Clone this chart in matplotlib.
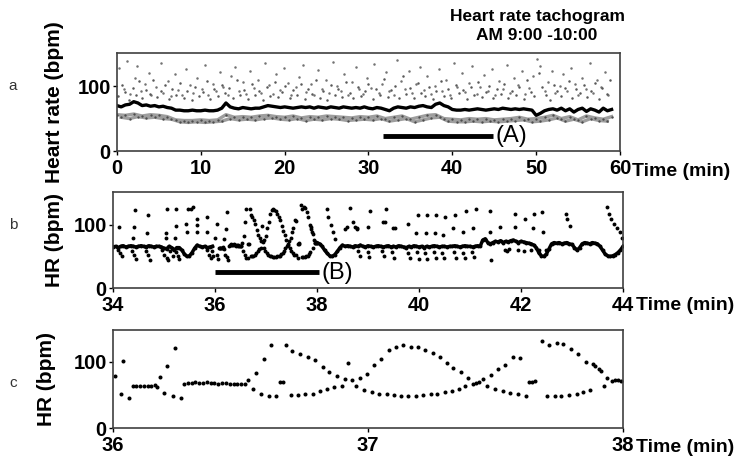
import numpy as np
import matplotlib.pyplot as plt

# --- panel a: 1 h tachogram ---
a_hr = [70, 68, 71, 72, 76, 74, 70, 71, 69, 70, 68, 69, 67, 66,
        63, 63, 62, 62, 63, 62, 62, 63, 62, 62, 63, 66, 74, 68,
        66, 65, 67, 66, 65, 66, 66, 68,
        70, 69, 68, 67, 68, 67, 66, 67, 68, 67, 68, 66,
        68, 67, 66, 68, 67, 66, 68, 67, 66, 67, 66, 68, 66, 65, 67, 66,
        64, 62, 66, 68, 67, 66, 68, 67, 69, 70, 68, 67,
        72, 74, 70, 68,
        64, 63, 63, 64, 63, 64, 65, 64, 63, 64, 65, 64, 66, 65, 64, 65,
        64, 65, 64, 63, 55, 58,
        62, 64, 65, 63, 66, 62, 65, 60, 64, 66, 61, 65, 63, 60, 66, 62, 64]
a_low = [56, 55, 57, 54, 56, 55, 53,
         48, 47, 47, 48, 47, 48,
         56, 52, 53, 52, 54, 55,
         53, 52, 54, 51, 53, 52, 54, 53, 52, 51, 53, 52, 54,
         50, 52, 54, 49, 52, 55, 56,
         50, 49, 48, 50, 49, 50, 48, 49, 50, 52, 49, 50,
         52, 55, 50, 53, 48, 54, 51, 49, 53]
a_low2 = [52, 50, 53, 51, 52, 50, 49,
          45, 44, 45, 44, 45, 46,
          50, 48, 49, 48, 50, 51,
          49, 48, 50, 47, 49, 48, 50, 49, 47, 48, 49, 48, 50,
          46, 48, 50, 45, 48, 51, 52,
          46, 45, 45, 46, 45, 46, 45, 46, 47, 48, 45, 46,
          48, 51, 46, 49, 45, 50, 47, 46]
a_up_t = [0.3, 0.8, 1.2, 1.6, 2.1, 2.4, 2.9, 3.3, 3.8, 4.1, 4.6, 5.2, 5.5, 6.1,
          6.4, 6.9, 7.3, 7.8, 8.2, 8.7, 9.1, 9.6, 10.1, 10.5, 10.9, 11.4, 11.8,
          12.3, 12.7, 13.2, 13.6, 14.1, 14.5, 15.0, 15.4, 15.9, 16.3, 16.8,
          17.2, 17.7, 18.1, 18.6, 19.0, 19.5, 19.9, 20.4, 20.8, 21.3, 21.7,
          22.2, 22.6, 23.1, 23.5, 24.0, 24.4, 24.9, 25.3, 25.8, 26.2, 26.7,
          27.1, 27.6, 28.0, 28.5, 28.9, 29.4, 29.8, 30.3, 30.7, 31.2, 31.6,
          32.1, 32.5, 33.0, 33.4, 33.9, 34.3, 34.8, 35.2, 35.7, 36.1, 36.6,
          37.0, 37.5, 37.9, 38.4, 38.8, 39.3, 39.7, 40.2, 40.6, 41.1, 41.5,
          42.0, 42.4, 42.9, 43.3, 43.8, 44.2, 44.7, 45.1, 45.6, 46.0, 46.5,
          46.9, 47.4, 47.8, 48.3, 48.7, 49.2, 49.6, 50.1, 50.5, 51.0, 51.4,
          51.9, 52.3, 52.8, 53.2, 53.7, 54.1, 54.6, 55.0, 55.5, 55.9, 56.4,
          56.8, 57.3, 57.7, 58.2, 58.6]
a_up_hr = [128, 96, 139, 88, 112, 131, 92, 104, 120, 86, 99, 135, 90, 108,
           84, 118, 94, 87, 126, 101, 89, 113, 95, 133, 86, 104, 92,
           122, 98, 87, 116, 130, 93, 106, 88, 124, 97, 110,
           90, 135, 102, 88, 119, 94, 128, 105, 87, 98, 114,
           132, 91, 103, 86, 125, 96, 109, 89, 137, 100, 92,
           118, 87, 106, 129, 95, 88, 112, 97, 134, 90, 104,
           121, 93, 86, 140, 108, 96, 124, 89, 103, 130, 94,
           115, 88, 100, 127, 92, 110, 86, 136, 98, 120, 91,
           105, 131, 88, 99, 117, 93, 126, 87, 108, 96, 133,
           90, 112, 101, 123, 88, 97, 115, 142, 131, 93, 106,
           124, 89, 100, 118, 92, 128, 104, 87, 113, 96, 135,
           90, 109, 99, 121, 86]
a_up2_t = [0.1, 0.6, 1.0, 1.4, 1.9, 2.3, 2.6, 3.0, 3.5, 3.9, 4.3, 4.8, 5.3,
           5.7, 6.2, 6.6, 7.0, 7.5, 8.0, 8.4, 8.9, 9.3, 9.8, 10.3, 10.7,
           11.1, 11.6, 12.0, 12.5, 12.9, 13.4, 13.8, 14.3, 14.7, 15.2, 15.6,
           16.1, 16.5, 17.0, 17.4, 17.9, 18.3, 18.8, 19.2, 19.7, 20.1, 20.6,
           21.0, 21.5, 21.9, 22.4, 22.8, 23.3, 23.7, 24.2, 24.6, 25.1, 25.5,
           26.0, 26.4, 26.9, 27.3, 27.8, 28.2, 28.7, 29.1, 29.6, 30.0, 30.5,
           30.9, 31.4, 31.8, 32.3, 32.7, 33.2, 33.6, 34.1, 34.5, 35.0, 35.4,
           35.9, 36.3, 36.8, 37.2, 37.7, 38.1, 38.6, 39.0, 39.5, 39.9, 40.4,
           40.8, 41.3, 41.7, 42.2, 42.6, 43.1, 43.5, 44.0, 44.4, 44.9, 45.3,
           45.8, 46.2, 46.7, 47.1, 47.6, 48.0, 48.5, 48.9, 49.4, 49.8, 50.3,
           50.7, 51.2, 51.6, 52.1, 52.5, 53.0, 53.4, 53.9, 54.3, 54.8, 55.2,
           55.7, 56.1, 56.6, 57.0, 57.5, 57.9, 58.4, 58.8]
a_up2_hr = [84, 102, 91, 79, 97, 86, 108, 81, 94, 88, 110, 83, 92,
            101, 80, 96, 86, 105, 82, 93, 79, 99, 85, 91, 108,
            80, 95, 84, 102, 89, 97, 81, 110, 87, 94, 80,
            103, 86, 92, 79, 98, 85, 106, 83, 91, 100, 81,
            94, 87, 104, 80, 96, 88, 109, 82, 93, 79, 101,
            86, 95, 83, 107, 90, 81, 99, 85, 92, 104, 80,
            96, 87, 111, 83, 94, 100, 81, 116, 88, 97, 82,
            105, 90, 84, 99, 80, 93, 108, 85, 96, 81, 102,
            89, 94, 80, 98, 86, 107, 83, 91, 100, 81, 95,
            88, 104, 82, 93, 86, 99, 80, 109, 91, 84, 120,
            98, 86, 79, 102, 93, 84, 97, 108, 81, 95, 89,
            101, 83, 92, 105, 80, 97, 88, 110]

# --- panel c: 36-38 min, beat by beat ---
c_t = [36.008, 36.030, 36.038, 36.063,
       36.077, 36.092, 36.106, 36.121, 36.136, 36.150, 36.165,
       36.171, 36.184, 36.201, 36.213, 36.236, 36.243, 36.265,
       36.278, 36.293, 36.308, 36.323, 36.338, 36.353, 36.368, 36.383,
       36.398, 36.413, 36.428, 36.443, 36.458, 36.473, 36.488, 36.503, 36.518,
       36.531, 36.548, 36.561, 36.580, 36.591, 36.612, 36.618, 36.639,
       36.655, 36.668, 36.677, 36.697, 36.704, 36.727, 36.733, 36.755,
       36.763, 36.783, 36.792, 36.812, 36.822, 36.838, 36.848, 36.867,
       36.877, 36.899, 36.910, 36.923, 36.936, 36.953, 36.969, 36.984,
       36.995, 37.014, 37.024, 37.044, 37.051, 37.073, 37.082, 37.102,
       37.109, 37.128, 37.136, 37.158, 37.167, 37.188, 37.197, 37.217,
       37.224, 37.246, 37.254, 37.272, 37.282, 37.302, 37.309, 37.328,
       37.335, 37.357, 37.365, 37.380, 37.394, 37.411, 37.424, 37.436,
       37.450, 37.465, 37.481, 37.498, 37.509, 37.528, 37.537, 37.557,
       37.567, 37.590, 37.596, 37.620, 37.633, 37.645, 37.657, 37.681,
       37.703, 37.711, 37.733, 37.740, 37.759, 37.766, 37.790, 37.795,
       37.818, 37.825, 37.844, 37.855, 37.871, 37.884, 37.890, 37.907,
       37.913, 37.925, 37.938, 37.956, 37.969, 37.981, 37.994]
c_hr = [79, 52, 101, 46,
        63, 64, 64, 63, 64, 64, 65,
        62, 77, 53, 94, 49, 121, 45,
        67, 68, 68, 69, 68, 68, 69, 68,
        68, 67, 68, 68, 67, 67, 66, 66, 67,
        72, 59, 83, 52, 104, 48, 126, 48,
        70, 70, 126, 50, 116, 50, 112, 51,
        107, 52, 102, 56, 92, 59, 84, 62,
        79, 64, 74, 98, 73, 63, 76, 58,
        82, 55, 95, 52, 104, 51, 118, 50,
        123, 49, 126, 49, 123, 49, 122, 50,
        118, 51, 113, 51, 108, 54, 98, 56,
        91, 59, 84, 63, 76, 66, 68, 70,
        74, 63, 80, 59, 89, 56, 95, 53,
        108, 52, 106, 48, 70, 70, 71, 131,
        49, 126, 49, 128, 49, 127, 50, 120,
        51, 112, 54, 100, 57, 96, 93, 89,
        86, 63, 76, 71, 72, 72, 71]

# --- panel b: 34-44 min (36-38 is the same data as panel c) ---
b_base1 = [65, 66, 64, 66, 67, 65, 66, 67, 66, 65, 66, 67, 66, 65, 67, 66,
           65, 66, 66, 65, 63, 62, 66, 64, 60, 64, 64, 60, 54, 50, 51, 56,
           63, 68, 66, 65, 66, 64, 65, 66]          # 34.00 .. 35.95
b_base2 = [72, 70, 66, 60, 55, 51, 50, 53, 58, 64, 68, 66, 67, 66, 65, 67,
           66, 68, 66, 65, 67, 66, 65, 66, 67, 66, 65, 66, 67, 65, 66, 65,
           67, 66, 65, 64, 66, 65, 67, 66, 65, 66, 64, 66, 65, 66, 67, 66,
           65, 66, 66, 65, 66, 66, 67, 66, 65, 66, 67, 66, 66, 65, 66, 67,
           66, 76, 78, 72, 70, 72, 74, 73, 75, 72, 74, 73, 75, 76, 74, 72,
           74, 73, 72, 71, 70, 68, 64, 56, 51, 50, 54, 62, 70, 72, 71, 72,
           70, 71, 72, 70, 69, 64, 60, 64, 70, 72, 71, 70, 72, 71, 70, 66,
           60, 54, 51, 50, 51, 53, 56, 60, 66]       # 38.00 .. 44.00
b_dot_t = [34.12, 34.43, 34.41, 34.40, 34.69, 34.67, 35.05, 35.04, 35.04,
           35.24, 35.24, 35.22, 35.48, 35.52, 35.56, 35.43, 35.46, 35.64,
           35.64, 35.64, 35.84, 35.84,
           34.10, 34.13, 34.17, 34.37, 34.41, 34.46, 34.64, 34.68, 34.73,
           34.97, 35.01, 35.05, 35.08, 35.12, 35.18, 35.24, 35.27, 35.30,
           35.84, 35.88, 35.92, 35.94, 35.97,
           38.19, 38.22, 38.27, 38.32, 38.36, 38.58, 38.55, 38.65, 38.71,
           38.74, 38.78, 38.79, 39.01, 39.04, 39.30, 39.33, 39.35, 39.50,
           39.53, 39.79, 39.95, 39.99, 40.14, 40.15, 40.31, 40.33, 40.47,
           40.51, 40.67, 40.70, 40.87, 40.92, 41.06, 41.12, 41.39, 41.40,
           41.59, 41.88, 41.88, 42.08, 42.24, 42.26, 42.42, 42.44, 42.88,
           42.91, 42.96, 43.68, 43.72, 43.76, 43.82, 43.88, 43.94, 43.98,
           38.81, 38.84, 39.00, 39.03, 39.28, 39.31, 39.48, 39.52, 39.78,
           39.82, 39.96, 40.00, 40.12, 40.16, 40.30, 40.34, 40.46, 40.50,
           40.68, 40.72, 40.86, 40.90, 41.04, 41.08, 41.42, 41.68, 41.72,
           41.76, 41.95, 42.05, 42.20, 42.35, 42.50]
b_dot_hr = [96, 124, 96, 79, 116, 87, 125, 87, 79,
            125, 99, 79, 126, 126, 128, 102, 89, 110,
            100, 89, 113, 89,
            60, 55, 50, 58, 52, 46, 58, 52, 45,
            60, 53, 47, 44, 58, 50, 57, 50, 46,
            60, 53, 47, 58, 50,
            126, 113, 100, 89, 78, 96, 94, 127, 105,
            96, 94, 95, 97, 122, 105, 104, 125, 95,
            95, 102, 87, 116, 87, 116, 87, 116, 84,
            112, 95, 116, 89, 122, 95, 126, 89, 122,
            97, 117, 97, 110, 95, 117, 120, 89, 117,
            110, 98, 128, 118, 110, 102, 95, 88, 80,
            58, 50, 57, 49, 58, 50, 57, 48, 56,
            47, 57, 46, 56, 46, 57, 47, 56, 48,
            57, 47, 56, 48, 57, 49, 45, 60, 58,
            62, 60, 58, 60, 61, 60]

plt.rcParams['font.family'] = ['Liberation Sans', 'DejaVu Sans']

fig = plt.figure(figsize=(7.38, 4.59), dpi=100)
ax_a = fig.add_axes([0.1585, 0.671, 0.6816, 0.2135])
ax_b = fig.add_axes([0.1531, 0.3725, 0.691, 0.209])
ax_c = fig.add_axes([0.1531, 0.0675, 0.691, 0.2135])

# panel a
t_a = np.arange(len(a_hr)) * 0.5
t_low = np.arange(len(a_low)) * 1.0
t_low2 = 0.5 + np.arange(len(a_low2)) * 1.0
ax_a.plot(a_up_t, a_up_hr, ".", color="0.45", ms=3.6, mew=0)
ax_a.plot(a_up2_t, a_up2_hr, ".", color="0.35", ms=3.6, mew=0)
ax_a.plot(t_low, a_low, "-", color="0.62", lw=2.4)
ax_a.plot(t_low2, a_low2, "-", color="0.62", lw=2.4)
ax_a.plot(t_low, a_low, ".", color="0.3", ms=3.4, mew=0)
ax_a.plot(t_low2, a_low2, ".", color="0.3", ms=3.4, mew=0)
ax_a.plot(t_a, a_hr, "-", color="k", lw=2.4)
ax_a.plot([31.7, 44.85], [23.5, 23.5], color="k", lw=3.5, solid_capstyle="butt")
ax_a.text(45.2, 23.5, "(A)", fontsize=17, va="center", ha="left")
ax_a.set_xlim(0, 60)
ax_a.set_ylim(0, 151)
ax_a.set_xticks([0, 10, 20, 30, 40, 50, 60])

# panel b
t_b1 = 34 + np.arange(len(b_base1)) * 0.05
t_b2 = 38 + np.arange(len(b_base2)) * 0.05
for tt, hh in [(t_b1, b_base1), (t_b2, b_base2)]:
    ax_b.plot(tt, hh, "-", color="k", lw=2.5)
    ax_b.plot(tt, hh, "o", color="k", ms=2.8, mew=0)
ax_b.plot(b_dot_t, b_dot_hr, "o", color="k", ms=2.8, mew=0)
ax_b.plot(c_t, c_hr, "o", color="k", ms=2.8, mew=0)
ax_b.plot([36.0, 38.03], [25, 25], color="k", lw=3.5, solid_capstyle="butt")
ax_b.text(38.08, 24, "(B)", fontsize=17, va="center", ha="left")
ax_b.set_xlim(34, 44)
ax_b.set_ylim(0, 152)
ax_b.set_xticks([34, 36, 38, 40, 42, 44])

# panel c
ax_c.plot(c_t, c_hr, "o", color="k", ms=2.9, mew=0)
ax_c.set_xlim(36, 38)
ax_c.set_ylim(0, 148)
ax_c.set_xticks([36, 37, 38])

for ax in (ax_a, ax_b, ax_c):
    ax.set_yticks([0, 100])
    ax.tick_params(direction="out", length=3, width=1, labelsize=14.5)
    ax.tick_params(axis="x", pad=3)
    ax.tick_params(axis="y", pad=1.5)
    for lab in ax.get_xticklabels() + ax.get_yticklabels():
        lab.set_fontweight("bold")
    for s in ax.spines.values():
        s.set_linewidth(1.2)
        s.set_color("0.25")

# axis titles and panel letters
fig.text(55 / 738, 1 - 102 / 459, "Heart rate (bpm)", rotation=90,
         ha="center", va="center", fontsize=15, fontweight="bold")
fig.text(54 / 738, 1 - 240 / 459, "HR (bpm)", rotation=90,
         ha="center", va="center", fontsize=15, fontweight="bold")
fig.text(47 / 738, 1 - 379 / 459, "HR (bpm)", rotation=90,
         ha="center", va="center", fontsize=15, fontweight="bold")
for y, s in [(86, "a"), (225, "b"), (383, "c")]:
    fig.text(13 / 738, 1 - y / 459, s, ha="center", va="center",
             fontsize=11, color="0.2")

fig.text(632 / 738, 1 - 172 / 459, "Time (min)", ha="left", va="center",
         fontsize=14, fontweight="bold")
fig.text(636 / 738, 1 - 305 / 459, "Time (min)", ha="left", va="center",
         fontsize=14, fontweight="bold")
fig.text(636 / 738, 1 - 447 / 459, "Time (min)", ha="left", va="center",
         fontsize=14, fontweight="bold")

fig.text(537 / 738, 1 - 17 / 459, "Heart rate tachogram", ha="center",
         va="center", fontsize=12.5, fontweight="bold")
fig.text(537 / 738, 1 - 35 / 459, "AM 9:00 -10:00", ha="center",
         va="center", fontsize=12.5, fontweight="bold")

fig.savefig("out.png", dpi=100)
